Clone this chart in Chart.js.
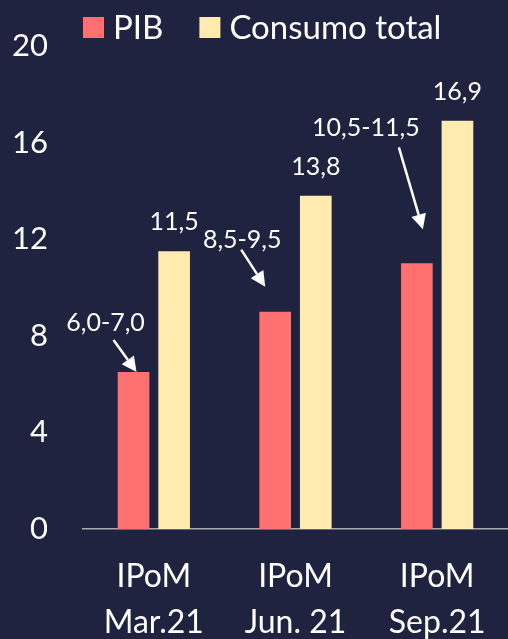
<!DOCTYPE html>
<html lang="es">
<head>
<meta charset="utf-8">
<title>PIB y consumo total</title>
<script src="https://cdn.jsdelivr.net/npm/chart.js@4/dist/chart.umd.min.js"></script>
<style>
    html, body { margin: 0; padding: 0; background: #1f2340; }
    #wrap { width: 508px; height: 639px; }
</style>
</head>
<body>
<div id="wrap"><canvas id="growthChart" width="508" height="639"></canvas></div>
<script>
// categories (two-line labels)
const categories = [['IPoM', 'Mar.21'], ['IPoM', 'Jun. 21'], ['IPoM', 'Sep.21']];
// series values
const pibValues = [6.5, 9.0, 11.0];
const consumoValues = [11.5, 13.8, 16.9];
// forecast ranges written next to the PIB bars
const pibRanges = [[6.0, 7.0], [8.5, 9.5], [10.5, 11.5]];
// y axis ticks
const yTicks = [0, 4, 8, 12, 16, 20];

const BG = '#1f2340';
const PIB_COLOR = '#ff7070';
const CONSUMO_COLOR = '#ffeab0';
const FONT = 'Lato, "Open Sans", sans-serif';

// where each range label and its arrow sit, relative to the top of its PIB bar
const arrowLayout = [
    { label: [-28, -41], from: [-20, -32], to: [3, 0] },
    { label: [-33, -64], from: [-34, -62], to: [-10, -25] },
    { label: [-51, -127], from: [-18, -116], to: [6, -34] }
];

function fmt(v) {
    return v.toFixed(1).replace('.', ',');
}

// Fill the canvas with the dark background
const backgroundPlugin = {
    id: 'background',
    beforeDraw(chart) {
        const ctx = chart.ctx;
        ctx.save();
        ctx.fillStyle = BG;
        ctx.fillRect(0, 0, chart.width, chart.height);
        ctx.restore();
    }
};

// Simple legend drawn at the top left
const legendPlugin = {
    id: 'topLegend',
    afterDraw(chart) {
        const ctx = chart.ctx;
        ctx.save();
        ctx.font = '33px ' + FONT;
        ctx.textBaseline = 'alphabetic';
        let x = chart.chartArea.left;
        chart.data.datasets.forEach(ds => {
            ctx.fillStyle = ds.backgroundColor;
            ctx.fillRect(x, 17, 21, 21);
            x += 30;
            ctx.fillStyle = '#ffffff';
            ctx.fillText(ds.label, x, 39);
            x += ctx.measureText(ds.label).width + 36;
        });
        ctx.restore();
    }
};

// Value labels over the consumo bars, range labels with arrows over PIB
const labelsPlugin = {
    id: 'barLabels',
    afterDatasetsDraw(chart) {
        const ctx = chart.ctx;
        ctx.save();
        ctx.font = '25px ' + FONT;
        ctx.fillStyle = '#ffffff';
        ctx.textAlign = 'center';
        ctx.textBaseline = 'alphabetic';

        chart.getDatasetMeta(1).data.forEach((bar, i) => {
            ctx.fillText(fmt(consumoValues[i]), bar.x, bar.y - 21);
        });

        chart.getDatasetMeta(0).data.forEach((bar, i) => {
            const lay = arrowLayout[i];
            const r = pibRanges[i];
            ctx.fillStyle = '#ffffff';
            ctx.fillText(fmt(r[0]) + '-' + fmt(r[1]), bar.x + lay.label[0], bar.y + lay.label[1]);

            const x1 = bar.x + lay.from[0], y1 = bar.y + lay.from[1];
            const x2 = bar.x + lay.to[0], y2 = bar.y + lay.to[1];
            const ang = Math.atan2(y2 - y1, x2 - x1);
            const head = 15;
            const hx = x2 - head * Math.cos(ang), hy = y2 - head * Math.sin(ang);

            ctx.strokeStyle = '#ffffff';
            ctx.lineWidth = 2.5;
            ctx.beginPath();
            ctx.moveTo(x1, y1);
            ctx.lineTo(hx, hy);
            ctx.stroke();

            ctx.beginPath();
            ctx.moveTo(x2, y2);
            ctx.lineTo(hx + 7.5 * Math.sin(ang), hy - 7.5 * Math.cos(ang));
            ctx.lineTo(hx - 7.5 * Math.sin(ang), hy + 7.5 * Math.cos(ang));
            ctx.closePath();
            ctx.fill();
        });
        ctx.restore();
    }
};

const ctx = document.getElementById('growthChart').getContext('2d');

const growthChart = new Chart(ctx, {
    type: 'bar',
    data: {
        labels: categories,
        datasets: [{
            label: 'PIB',
            data: pibValues,
            backgroundColor: PIB_COLOR,
            barPercentage: 0.78,
            categoryPercentage: 0.573
        }, {
            label: 'Consumo total',
            data: consumoValues,
            backgroundColor: CONSUMO_COLOR,
            barPercentage: 0.78,
            categoryPercentage: 0.573
        }]
    },
    options: {
        responsive: false,
        animation: false,
        devicePixelRatio: 1,
        layout: {
            padding: { top: 46, right: -4, left: 0, bottom: 0 }
        },
        plugins: {
            legend: { display: false },
            tooltip: { enabled: false }
        },
        scales: {
            x: {
                grid: { display: false, drawTicks: false },
                border: { display: true, color: '#a8a8b0', width: 1.5 },
                ticks: {
                    color: '#ffffff',
                    font: { family: FONT, size: 32, lineHeight: 1.44 },
                    padding: 25,
                    maxRotation: 0
                },
                afterFit(scale) {
                    scale.height = 110;
                    scale.paddingLeft = 0;
                    scale.paddingRight = 0;
                }
            },
            y: {
                min: 0,
                max: 20,
                grid: { display: false, drawTicks: false },
                border: { display: false },
                afterBuildTicks(scale) {
                    scale.ticks = yTicks.map(v => ({ value: v }));
                },
                ticks: {
                    color: '#ffffff',
                    font: { family: FONT, size: 31 },
                    padding: 35
                },
                afterFit(scale) {
                    scale.width = 83;
                    scale.paddingTop = 0;
                    scale.paddingBottom = 0;
                }
            }
        }
    },
    plugins: [backgroundPlugin, legendPlugin, labelsPlugin]
});
</script>
</body>
</html>
